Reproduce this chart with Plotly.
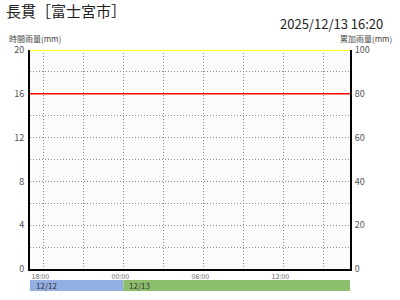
import plotly.graph_objects as go

title_text = "長貫［富士宮市］"
time_text = "2025/12/13 16:20"
x_start = "2025-12-12 17:00"
x_end = "2025-12-13 17:00"
midnight = "2025-12-13 00:00"
tick_vals = ["2025-12-12 18:00", "2025-12-13 00:00", "2025-12-13 06:00", "2025-12-13 12:00"]
tick_text = ["18:00", "00:00", "06:00", "12:00"]
hourly_times = []
hourly_rain = []
cum_rain = []
threshold_yellow = 20
threshold_red = 16
date_labels = ["12/12", "12/13"]

FONT = "Noto Sans CJK JP"
GRID = "#8a8a8a"
DASH = "1px,2px"
fig = go.Figure()
fig.add_trace(go.Bar(x=hourly_times, y=hourly_rain, marker_color="#3060e0", showlegend=False))
fig.add_trace(go.Scatter(x=hourly_times, y=cum_rain, yaxis="y2", mode="lines",
                         line=dict(color="#0000ff", width=1), showlegend=False))
fig.add_trace(go.Scatter(x=[x_start, x_end], y=[threshold_yellow] * 2, mode="lines",
                         line=dict(color="#ffff00", width=2), showlegend=False, cliponaxis=False))
fig.add_trace(go.Scatter(x=[x_start, x_end], y=[threshold_red] * 2, mode="lines",
                         line=dict(color="#ff0000", width=1.5), showlegend=False))

fig.update_layout(
    width=400, height=300,
    margin=dict(l=30, r=50, t=50, b=31),
    paper_bgcolor="white", plot_bgcolor="#fafcfa",
    font=dict(family=FONT, size=9, color="#555"),
    xaxis=dict(type="date", range=[x_start, x_end], tickvals=tick_vals, ticktext=tick_text,
               showgrid=True, gridcolor=GRID, griddash=DASH, gridwidth=1,
               minor=dict(dtick=3 * 3600 * 1000, tick0="2025-12-12 18:00", showgrid=True,
                          gridcolor=GRID, griddash=DASH, gridwidth=1),
               showline=True, linecolor="black", linewidth=2, ticks="", ticklen=0,
               tickfont=dict(size=7, color="#666"), ticklabelstandoff=0, ticklabelshift=-3,
               zeroline=False, fixedrange=True),
    yaxis=dict(range=[0, 20], dtick=4, showgrid=True, gridcolor=GRID, griddash=DASH,
               minor=dict(dtick=2, showgrid=True, gridcolor=GRID, griddash=DASH),
               showline=True, linecolor="black", linewidth=2, zeroline=False,
               tickfont=dict(size=9, color="#555"), ticklabelstandoff=2),
    yaxis2=dict(range=[0, 100], dtick=20, overlaying="y", side="right", showgrid=False,
                showline=True, linecolor="black", linewidth=2, zeroline=False,
                tickfont=dict(size=9, color="#555"), ticklabelstandoff=1),
    bargap=0.1,
)

# date band under x axis (pixels 280..291)
band_top = -11 / 219
band_bot = -22 / 219
fig.add_shape(type="rect", xref="x", yref="paper", x0=x_start, x1=midnight, y0=band_bot, y1=band_top,
              fillcolor="#93aee0", line_width=0, layer="below")
fig.add_shape(type="rect", xref="x", yref="paper", x0=midnight, x1=x_end, y0=band_bot, y1=band_top,
              fillcolor="#8dbe6b", line_width=0, layer="below")
for xv, lab in zip([x_start, midnight], date_labels):
    fig.add_annotation(x=xv, xref="x", y=(band_top + band_bot) / 2, yref="paper", text=lab,
                       showarrow=False, xanchor="left", yanchor="middle", xshift=4,
                       font=dict(size=8, color="#333"))

fig.add_annotation(text=title_text, xref="paper", yref="paper", x=-26 / 320, y=1 + 40 / 219,
                   xanchor="left", yanchor="middle", showarrow=False,
                   font=dict(size=15, color="#222", family=FONT))
fig.add_annotation(text=time_text, xref="paper", yref="paper", x=1 + 34 / 320, y=1 + 26.5 / 219,
                   xanchor="right", yanchor="middle", showarrow=False,
                   font=dict(size=13, color="#222", family=FONT), borderpad=0)
fig.add_annotation(text="時間雨量(mm)", xref="paper", yref="paper", x=-22 / 320, y=1 + 11 / 219,
                   xanchor="left", yanchor="middle", showarrow=False,
                   font=dict(size=8, color="#444", family=FONT), borderpad=0)
fig.add_annotation(text="累加雨量(mm)", xref="paper", yref="paper", x=1 + 43 / 320, y=1 + 11 / 219,
                   xanchor="right", yanchor="middle", showarrow=False,
                   font=dict(size=8, color="#444", family=FONT), borderpad=0)

fig.write_html("out.html")
